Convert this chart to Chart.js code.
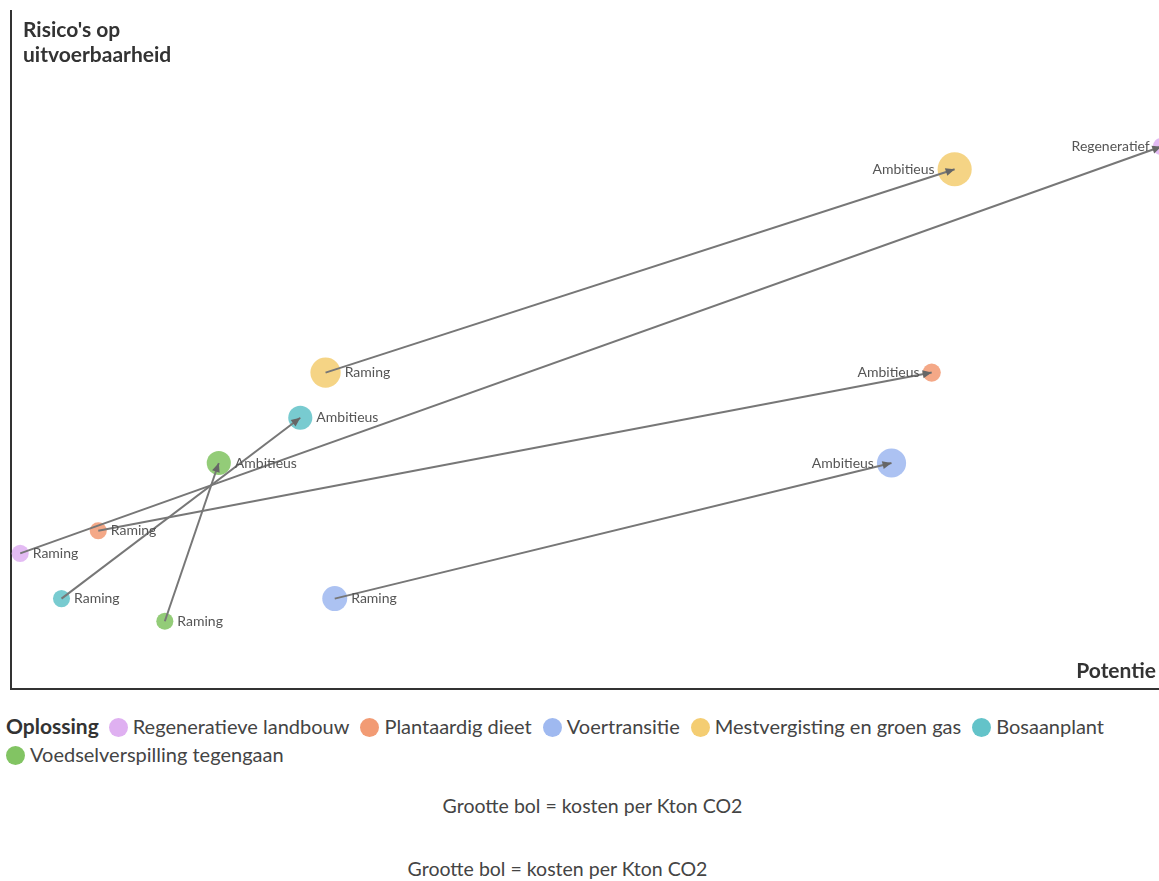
<!DOCTYPE html>
<html>
<head>
<meta charset="utf-8">
<script src="https://cdn.jsdelivr.net/npm/chart.js@4"></script>
<style>
  html, body { margin: 0; background: #fff; overflow: hidden; font-family: Lato, "Noto Sans", sans-serif; color: #444; }
  #wrap { position: relative; width: 1159px; height: 700px; }
  #legend { margin: 12px 0 0 6px; font-size: 20px; line-height: 28px; width: 1150px; }
  #legend b { color: #333; font-size: 21px; margin-right: 10px; }
  #legend .item { display: inline-block; margin-right: 11px; white-space: nowrap; }
  #legend .dot { display: inline-block; width: 19px; height: 19px; border-radius: 50%; vertical-align: -3px; margin-right: 5px; }
  .note { text-align: center; font-size: 19.5px; color: #444; }
</style>
</head>
<body>
<div id="wrap"><canvas id="chart"></canvas></div>
<div id="legend"></div>
<div class="note" style="margin-top:26px; width:1185px;">Grootte bol = kosten per Kton CO2</div>
<div class="note" style="margin-top:40px; width:1115px;">Grootte bol = kosten per Kton CO2</div>
<script>
'use strict';

var solutions = ['Regeneratieve landbouw', 'Plantaardig dieet', 'Voertransitie', 'Mestvergisting en groen gas', 'Bosaanplant', 'Voedselverspilling tegengaan'];
var colors = ['#dfb0f1', '#f29b74', '#9fb9f0', '#f4cd72', '#63c3c9', '#82c463'];

// potentie (x), risico (y), kosten (bubble size)
var potentieRaming = [8, 76, 282, 274, 44, 134];
var potentieAmbitieus = [1002, 802, 767, 822, 252, 181];
var risicoRaming = [4, 5, 2, 12, 2, 1];
var risicoAmbitieus = [22, 12, 8, 21, 10, 8];
var kostenRaming = [70, 70, 150, 220, 70, 70];
var kostenAmbitieus = [70, 80, 205, 280, 140, 140];
var labelsRaming = ['Raming', 'Raming', 'Raming', 'Raming', 'Raming', 'Raming'];
var labelsAmbitieus = ['Regeneratief', 'Ambitieus', 'Ambitieus', 'Ambitieus', 'Ambitieus', 'Ambitieus'];

function radius(k) { return Math.sqrt(k) * 1.02; }

var datasets = [];
for (var i = 0; i < solutions.length; i++) {
  datasets.push({
    type: 'line',
    label: 'pijl ' + solutions[i],
    data: [{x: potentieRaming[i], y: risicoRaming[i]}, {x: potentieAmbitieus[i], y: risicoAmbitieus[i]}],
    borderColor: '#777',
    borderWidth: 2,
    pointRadius: 0,
    order: 0,
    clip: false
  });
}
for (var i = 0; i < solutions.length; i++) {
  datasets.push({
    type: 'bubble',
    label: solutions[i],
    data: [
      {x: potentieRaming[i], y: risicoRaming[i], r: radius(kostenRaming[i])},
      {x: potentieAmbitieus[i], y: risicoAmbitieus[i], r: radius(kostenAmbitieus[i])}
    ],
    texts: [labelsRaming[i], labelsAmbitieus[i]],
    backgroundColor: colors[i] + 'dd',
    borderWidth: 0,
    order: 1,
    clip: false
  });
}

var extras = {
  id: 'extras',
  afterDatasetsDraw: function(chart) {
    var c = chart.ctx;
    var area = chart.chartArea;
    c.save();
    // arrow heads
    chart.data.datasets.forEach(function(ds, di) {
      if (ds.type !== 'line') return;
      var pts = chart.getDatasetMeta(di).data;
      var a = pts[0], b = pts[1];
      var ang = Math.atan2(b.y - a.y, b.x - a.x);
      c.fillStyle = '#666';
      c.beginPath();
      c.moveTo(b.x, b.y);
      c.lineTo(b.x - 9 * Math.cos(ang) + 4 * Math.sin(ang), b.y - 9 * Math.sin(ang) - 4 * Math.cos(ang));
      c.lineTo(b.x - 9 * Math.cos(ang) - 4 * Math.sin(ang), b.y - 9 * Math.sin(ang) + 4 * Math.cos(ang));
      c.closePath();
      c.fill();
    });
    // point labels
    c.font = '14px Lato, "Noto Sans", sans-serif';
    c.fillStyle = '#555';
    c.textBaseline = 'middle';
    chart.data.datasets.forEach(function(ds, di) {
      if (ds.type !== 'bubble') return;
      chart.getDatasetMeta(di).data.forEach(function(el, j) {
        var r = ds.data[j].r;
        if (ds.data[j].x > 500) {
          c.textAlign = 'right';
          c.fillText(ds.texts[j], el.x - r - 3, el.y);
        } else {
          c.textAlign = 'left';
          c.fillText(ds.texts[j], el.x + r + 4, el.y);
        }
      });
    });
    // axis titles
    c.font = 'bold 21px Lato, "Noto Sans", sans-serif';
    c.fillStyle = '#333';
    c.textAlign = 'left';
    c.fillText("Risico's op", area.left + 12, 30);
    c.fillText('uitvoerbaarheid', area.left + 12, 55);
    c.textAlign = 'right';
    c.fillText('Potentie', area.right - 3, area.bottom - 18);
    c.restore();
  }
};

var ctx = document.getElementById('chart').getContext('2d');
var chart = new Chart(ctx, {
  data: { datasets: datasets },
  options: {
    responsive: true,
    maintainAspectRatio: false,
    animation: false,
    events: [],
    layout: { autoPadding: false, padding: { left: 11, top: 11, right: 0, bottom: 11 } },
    plugins: { legend: { display: false }, tooltip: { enabled: false } },
    scales: {
      x: {
        type: 'linear', min: 0, max: 1000,
        ticks: { display: false },
        grid: { display: false, drawTicks: false },
        border: { display: true, color: '#333', width: 2 }
      },
      y: {
        type: 'linear', min: -2, max: 28,
        ticks: { display: false },
        grid: { display: false, drawTicks: false },
        border: { display: true, color: '#333', width: 2 }
      }
    }
  },
  plugins: [extras]
});

var legend = document.getElementById('legend');
var html = '<b>Oplossing</b>';
for (var i = 0; i < solutions.length; i++) {
  html += '<span class="item"><span class="dot" style="background:' + colors[i] + '"></span>' + solutions[i] + '</span>';
}
legend.innerHTML = html;
</script>
</body>
</html>
